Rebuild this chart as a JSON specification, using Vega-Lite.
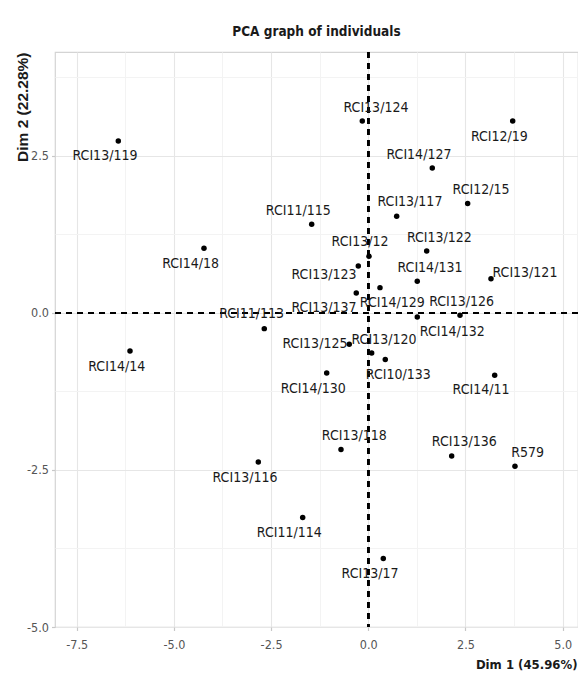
{
  "$schema": "https://vega.github.io/schema/vega-lite/v6.json",
  "width": 523,
  "height": 575,
  "autosize": {"type": "none"},
  "padding": {"left": 55, "top": 52, "right": 0, "bottom": 64},
  "background": "white",
  "title": {
    "text": "PCA graph of individuals",
    "anchor": "middle",
    "frame": "group",
    "font": "Liberation Sans Narrow, DejaVu Sans Condensed, Liberation Sans, sans-serif",
    "fontSize": 13.5,
    "fontWeight": "bold",
    "color": "#1a1a1a",
    "baseline": "middle",
    "offset": 6
  },
  "config": {
    "view": {"stroke": "#d4d4d4", "strokeWidth": 1.2},
    "axis": {
      "labelFont": "Liberation Sans Narrow, DejaVu Sans Condensed, Liberation Sans, sans-serif",
      "labelFontSize": 12.5,
      "labelColor": "#555555",
      "domain": false,
      "tickColor": "#c8c8c8",
      "tickSize": 3.5,
      "tickWidth": 1.2,
      "titleColor": "#1a1a1a",
      "titleFontWeight": "bold"
    }
  },
  "data": {
    "values": [
      {"name": "RCI13/119", "x": -6.43, "y": 2.74, "lx": -6.772, "ly": 2.5},
      {"name": "RCI14/18", "x": -4.226, "y": 1.03, "lx": -4.568, "ly": 0.786},
      {"name": "RCI14/14", "x": -6.129, "y": -0.605, "lx": -6.47, "ly": -0.86},
      {"name": "RCI11/115", "x": -1.456, "y": 1.412, "lx": -1.8, "ly": 1.624},
      {"name": "RCI13/124", "x": -0.154, "y": 3.057, "lx": 0.198, "ly": 3.264},
      {"name": "RCI12/19", "x": 3.714, "y": 3.057, "lx": 3.37, "ly": 2.803},
      {"name": "RCI14/127", "x": 1.646, "y": 2.309, "lx": 1.304, "ly": 2.522},
      {"name": "RCI13/117", "x": 0.73, "y": 1.54, "lx": 1.072, "ly": 1.768},
      {"name": "RCI12/15", "x": 2.556, "y": 1.742, "lx": 2.899, "ly": 1.965},
      {"name": "RCI13/12", "x": 0.018, "y": 0.903, "lx": -0.213, "ly": 1.131},
      {"name": "RCI13/122", "x": 1.502, "y": 0.987, "lx": 1.827, "ly": 1.2},
      {"name": "RCI13/123", "x": -0.257, "y": 0.748, "lx": -1.139, "ly": 0.6},
      {"name": "RCI14/131", "x": 1.26, "y": 0.505, "lx": 1.587, "ly": 0.723},
      {"name": "RCI13/121", "x": 3.156, "y": 0.547, "lx": 4.03, "ly": 0.637},
      {"name": "RCI13/137", "x": -0.309, "y": 0.318, "lx": -1.139, "ly": 0.086},
      {"name": "RCI14/129", "x": 0.301, "y": 0.404, "lx": 0.617, "ly": 0.159},
      {"name": "RCI13/126", "x": 2.359, "y": -0.037, "lx": 2.4, "ly": 0.175},
      {"name": "RCI14/132", "x": 1.26, "y": -0.064, "lx": 2.16, "ly": -0.303},
      {"name": "RCI11/113", "x": -2.675, "y": -0.249, "lx": -3.0, "ly": -0.021},
      {"name": "RCI13/125", "x": -0.489, "y": -0.498, "lx": -1.371, "ly": -0.488},
      {"name": "RCI13/120", "x": 0.087, "y": -0.637, "lx": 0.404, "ly": -0.424},
      {"name": "RCI10/133", "x": 0.437, "y": -0.742, "lx": 0.772, "ly": -0.981},
      {"name": "RCI14/130", "x": -1.07, "y": -0.955, "lx": -1.414, "ly": -1.204},
      {"name": "RCI14/11", "x": 3.251, "y": -0.992, "lx": 2.899, "ly": -1.22},
      {"name": "RCI13/118", "x": -0.702, "y": -2.175, "lx": -0.36, "ly": -1.963},
      {"name": "RCI13/136", "x": 2.145, "y": -2.277, "lx": 2.469, "ly": -2.054},
      {"name": "R579", "x": 3.773, "y": -2.441, "lx": 4.1, "ly": -2.229},
      {"name": "RCI13/116", "x": -2.829, "y": -2.373, "lx": -3.171, "ly": -2.621},
      {"name": "RCI11/114", "x": -1.687, "y": -3.258, "lx": -2.032, "ly": -3.503},
      {"name": "RCI13/17", "x": 0.386, "y": -3.911, "lx": 0.044, "ly": -4.15}
    ]
  },
  "layer": [
    {
      "mark": {"type": "rule", "color": "#000000", "strokeDash": [6, 5], "strokeWidth": 1.6},
      "encoding": {"x": {"datum": 0}}
    },
    {
      "mark": {"type": "rule", "color": "#000000", "strokeDash": [6, 5], "strokeWidth": 1.6},
      "encoding": {"y": {"datum": 0}}
    },
    {
      "mark": {"type": "point", "filled": true, "size": 30, "color": "#000000", "opacity": 1},
      "encoding": {
        "x": {
          "field": "x",
          "type": "quantitative",
          "scale": {"domain": [-8.058, 5.394], "nice": false, "zero": false},
          "axis": {
            "title": "Dim 1 (45.96%)",
            "titleFont": "Liberation Sans Narrow, DejaVu Sans Condensed, Liberation Sans, sans-serif",
            "titleFontSize": 13,
            "titleAlign": "right",
            "titleAnchor": "end",
            "titleBaseline": "middle",
            "titleX": 522,
            "titleY": 37,
            "values": [-7.5, -6.25, -5, -3.75, -2.5, -1.25, 0, 1.25, 2.5, 3.75, 5],
            "labelExpr": "abs(datum.value % 2.5) > 0.01 ? '' : (datum.value < 0 ? '-' : '') + format(abs(datum.value), '.1f')",
            "labelPadding": 8,
            "labelBaseline": "top",
            "grid": true,
            "gridColor": {"condition": {"test": "abs(datum.value % 2.5) > 0.01", "value": "#f3f3f3"}, "value": "#e6e6e6"},
            "gridWidth": 1.1,
            "tickOpacity": {"condition": {"test": "abs(datum.value % 2.5) > 0.01", "value": 0}, "value": 1}
          }
        },
        "y": {
          "field": "y",
          "type": "quantitative",
          "scale": {"domain": [-5.0, 4.156], "nice": false, "zero": false},
          "axis": {
            "title": "Dim 2 (22.28%)",
            "titleFont": "Liberation Sans, Arial, sans-serif",
            "titleFontSize": 15.5,
            "titleAngle": -90,
            "titleAlign": "right",
            "titleBaseline": "middle",
            "titleX": -33,
            "titleY": 0,
            "values": [-5, -3.75, -2.5, -1.25, 0, 1.25, 2.5, 3.75],
            "labelExpr": "abs(datum.value % 2.5) > 0.01 ? '' : (datum.value < 0 ? '-' : '') + format(abs(datum.value), '.1f')",
            "labelPadding": 3,
            "grid": true,
            "gridColor": {"condition": {"test": "abs(datum.value % 2.5) > 0.01", "value": "#f3f3f3"}, "value": "#e6e6e6"},
            "gridWidth": 1.1,
            "tickOpacity": {"condition": {"test": "abs(datum.value % 2.5) > 0.01", "value": 0}, "value": 1}
          }
        }
      }
    },
    {
      "mark": {"type": "text", "font": "Liberation Sans Narrow, DejaVu Sans Condensed, Liberation Sans, sans-serif", "fontSize": 14, "color": "#1a1a1a", "align": "center", "baseline": "middle"},
      "encoding": {
        "x": {"field": "lx", "type": "quantitative"},
        "y": {"field": "ly", "type": "quantitative"},
        "text": {"field": "name", "type": "nominal"}
      }
    }
  ]
}
